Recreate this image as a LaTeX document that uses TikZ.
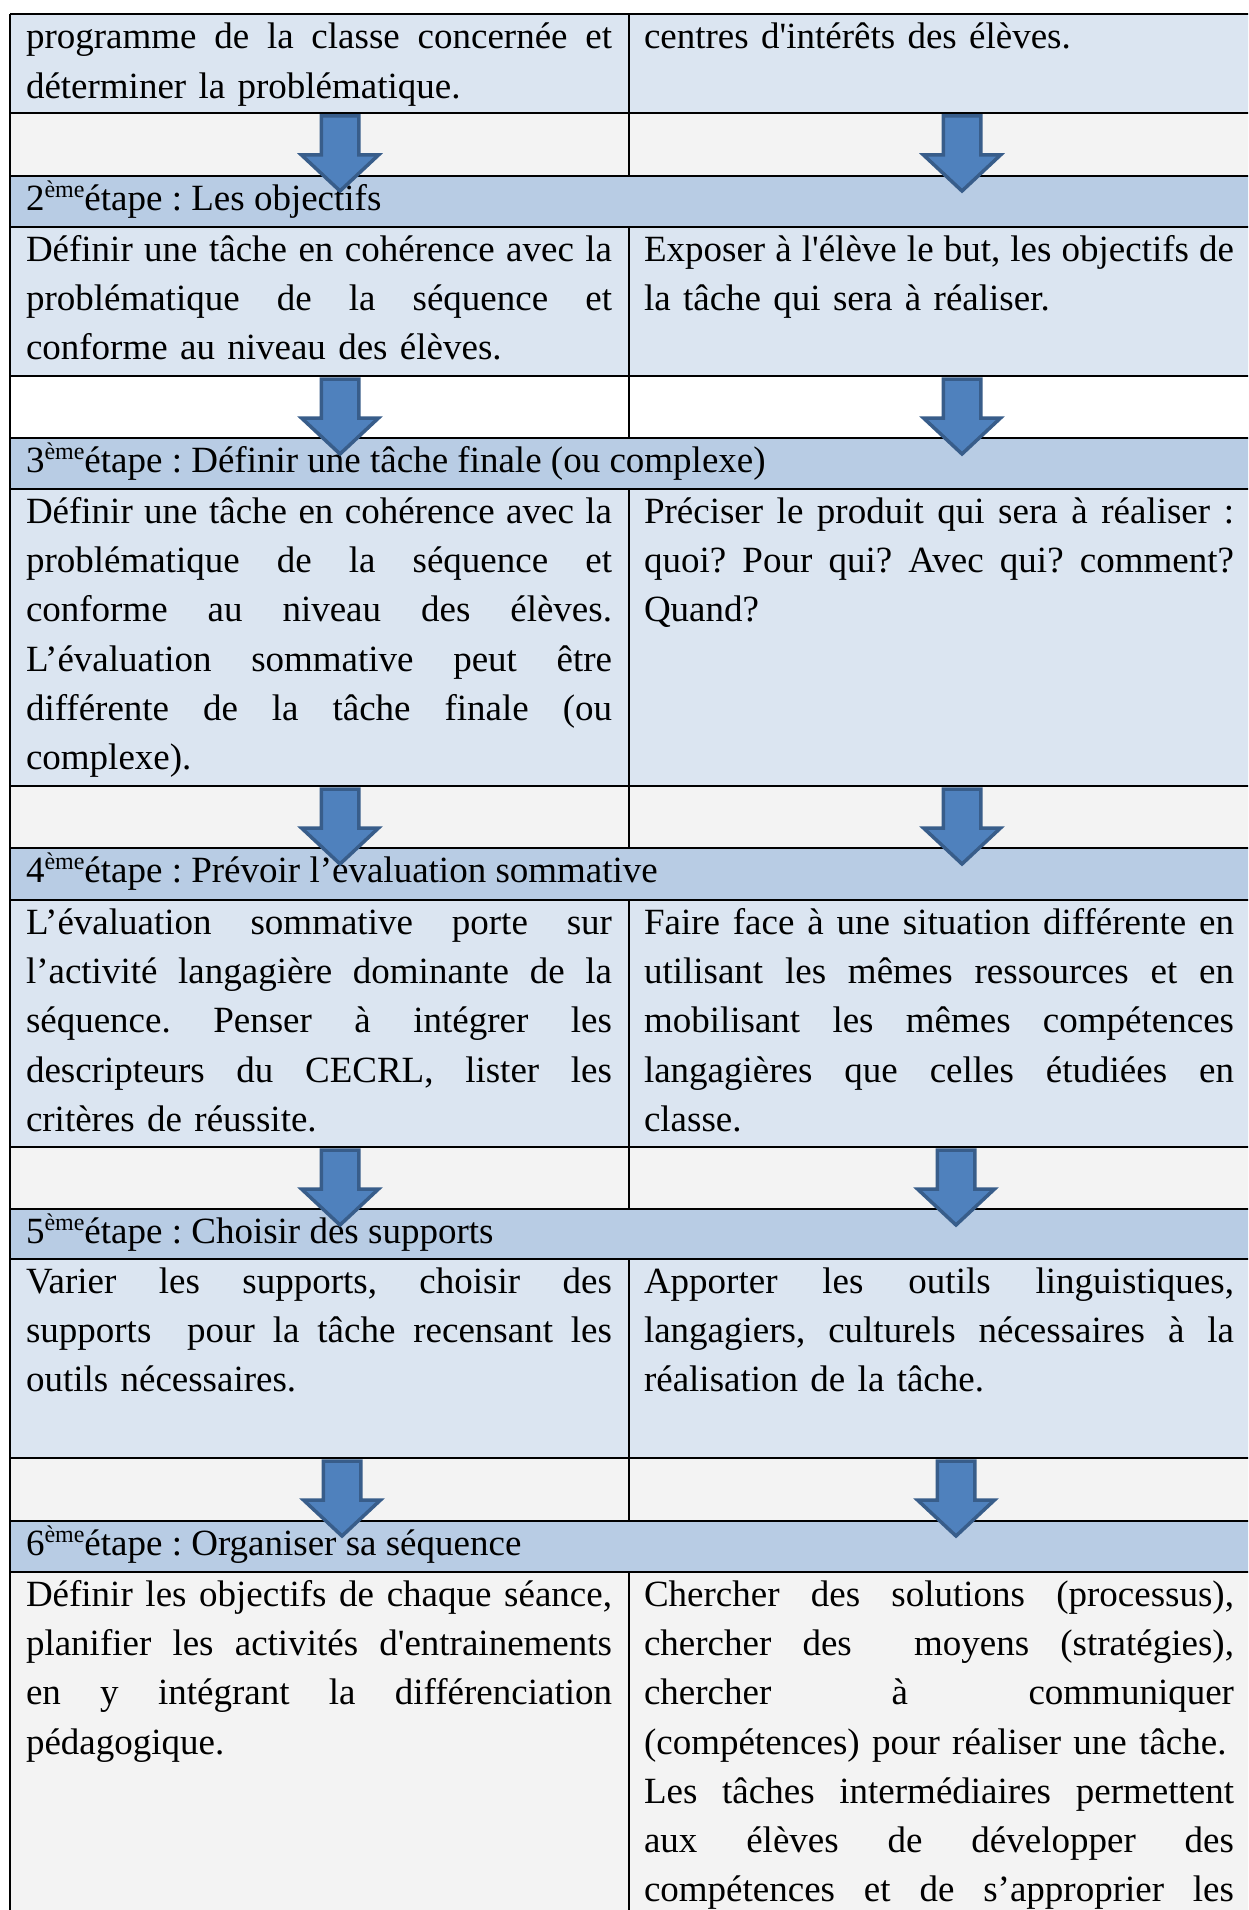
\documentclass[tikz,border=0pt]{standalone}
\usepackage{fontspec}
\setmainfont{Liberation Serif}
\setlength\parindent{0pt}
\frenchspacing
\definecolor{cellblue}{HTML}{DBE5F1}
\definecolor{headblue}{HTML}{B8CCE4}
\definecolor{gapgrey}{HTML}{F3F3F3}
\definecolor{arrowfill}{HTML}{4F81BD}
\definecolor{arrowline}{HTML}{385D8A}
\newlength\cellw
\newcommand\sq{\XeTeXglyph\XeTeXglyphindex "quotesingle"\relax}
\newcommand\jl[1]{\hbox to \cellw{\spaceskip=0.25em plus 1fil minus 0.08em\relax\strut#1}}
\newcommand\lastl[1]{\hbox{\strut#1}}
\newcommand\eme{\raisebox{13pt}{\fontsize{24}{24}\selectfont ème}}
\newcommand\blockarrow[2]{%
  \draw[arrowshape] ({#1-18.75},{#2+3}) -- ({#1+18.75},{#2+3}) -- ({#1+18.75},{#2+42})
    -- ({#1+38.5},{#2+42}) -- (#1,{#2+78}) -- ({#1-38.5},{#2+42})
    -- ({#1-18.75},{#2+42}) -- cycle;}
\tikzset{
  celltext/.style={anchor=north west, inner sep=0pt, outer sep=0pt,
    font=\fontsize{37}{49.25}\selectfont},
  lefttext/.style={celltext, text width=586pt, execute at begin node={\setlength\cellw{586pt}}},
  righttext/.style={celltext, text width=590pt, execute at begin node={\setlength\cellw{590pt}}},
  rule/.style={line width=2.2pt, black},
  arrowshape/.style={fill=arrowfill, draw=arrowline, line width=3.5pt, line join=miter},
}
\begin{document}
\begin{tikzpicture}[x=1pt,y=-1pt]
\useasboundingbox (0,0) rectangle (1248,1910);
\clip (0,0) rectangle (1248,1910);
\fill[white] (0,0) rectangle (1248,1910);
% row backgrounds
\fill[cellblue] (10,14) rectangle (1252,113);
\fill[gapgrey]  (10,113) rectangle (1252,176);
\fill[headblue] (10,176) rectangle (1252,227);
\fill[cellblue] (10,227) rectangle (1252,376);
\fill[white]    (10,376) rectangle (1252,438);
\fill[headblue] (10,438) rectangle (1252,489);
\fill[cellblue] (10,489) rectangle (1252,786);
\fill[gapgrey]  (10,786) rectangle (1252,848);
\fill[headblue] (10,848) rectangle (1252,900);
\fill[cellblue] (10,900) rectangle (1252,1147);
\fill[gapgrey]  (10,1147) rectangle (1252,1209);
\fill[headblue] (10,1209) rectangle (1252,1259);
\fill[cellblue] (10,1259) rectangle (1252,1458);
\fill[gapgrey]  (10,1458) rectangle (1252,1521);
\fill[headblue] (10,1521) rectangle (1252,1572);
\fill[gapgrey]  (10,1572) rectangle (1252,1920);
% rules
\foreach \yy in {14,113,176,227,376,438,489,786,848,900,1147,1209,1259,1458,1521,1572}
  \draw[rule] (10,\yy) -- (1252,\yy);
\draw[rule] (10,14) -- (10,1920);
\foreach \ya/\yb in {14/176,227/438,489/848,900/1209,1259/1521,1572/1920}
  \draw[rule] (629,\ya) -- (629,\yb);
% row 1
\node[lefttext] (c1l) at (26,14.5) {%
\jl{programme de la classe concernée et}
\lastl{déterminer la problématique.}};
\node[righttext] (c1r) at (644,14.5) {%
\lastl{centres d\sq intérêts des élèves.}};
% step 2
\node[celltext] (h2) at (26,176) {\strut 2\eme étape : Les objectifs};
\node[lefttext] (c2l) at (26,227) {%
\jl{Définir une tâche en cohérence avec la}
\jl{problématique de la séquence et}
\lastl{conforme au niveau des élèves.}};
\node[righttext] (c2r) at (644,227) {%
\jl{Exposer à l\sq élève le but, les objectifs de}
\lastl{la tâche qui sera à réaliser.}};
% step 3
\node[celltext] (h3) at (26,438) {\strut 3\eme étape : Définir une tâche finale (ou complexe)};
\node[lefttext] (c3l) at (26,489) {%
\jl{Définir une tâche en cohérence avec la}
\jl{problématique de la séquence et}
\jl{conforme au niveau des élèves.}
\jl{L’évaluation sommative peut être}
\jl{différente de la tâche finale (ou}
\lastl{complexe).}};
\node[righttext] (c3r) at (644,489) {%
\jl{Préciser le produit qui sera à réaliser :}
\jl{quoi? Pour qui? Avec qui? comment?}
\lastl{Quand?}};
% step 4
\node[celltext] (h4) at (26,848) {\strut 4\eme étape : Prévoir l’évaluation sommative};
\node[lefttext] (c4l) at (26,900) {%
\jl{L’évaluation sommative porte sur}
\jl{l’activité langagière dominante de la}
\jl{séquence. Penser à intégrer les}
\jl{descripteurs du CECRL, lister les}
\lastl{critères de réussite.}};
\node[righttext] (c4r) at (644,900) {%
\jl{Faire face à une situation différente en}
\jl{utilisant les mêmes ressources et en}
\jl{mobilisant les mêmes compétences}
\jl{langagières que celles étudiées en}
\lastl{classe.}};
% step 5
\node[celltext] (h5) at (26,1209) {\strut 5\eme étape : Choisir des supports};
\node[lefttext] (c5l) at (26,1259) {%
\jl{Varier les supports, choisir des}
\jl{supports\ \ pour la tâche recensant les}
\lastl{outils nécessaires.}};
\node[righttext] (c5r) at (644,1259) {%
\jl{Apporter les outils linguistiques,}
\jl{langagiers, culturels nécessaires à la}
\lastl{réalisation de la tâche.}};
% step 6
\node[celltext] (h6) at (26,1521) {\strut 6\eme étape : Organiser sa séquence};
\node[lefttext] (c6l) at (26,1572) {%
\jl{Définir les objectifs de chaque séance,}
\jl{planifier les activités d\sq entrainements}
\jl{en y intégrant la différenciation}
\lastl{pédagogique.}};
\node[righttext] (c6r) at (644,1572) {%
\jl{Chercher des solutions (processus),}
\jl{chercher des\ \ moyens (stratégies),}
\jl{chercher à communiquer}
\lastl{(compétences) pour réaliser une tâche.}
\jl{Les tâches intermédiaires permettent}
\jl{aux élèves de développer des}
\jl{compétences et de s’approprier les}};
% arrows
\blockarrow{340}{113}
\blockarrow{962}{113}
\blockarrow{340}{376}
\blockarrow{962}{376}
\blockarrow{340}{786}
\blockarrow{962}{786}
\blockarrow{340}{1147}
\blockarrow{956}{1147}
\blockarrow{342}{1458}
\blockarrow{956}{1458}
\end{tikzpicture}
\end{document}
